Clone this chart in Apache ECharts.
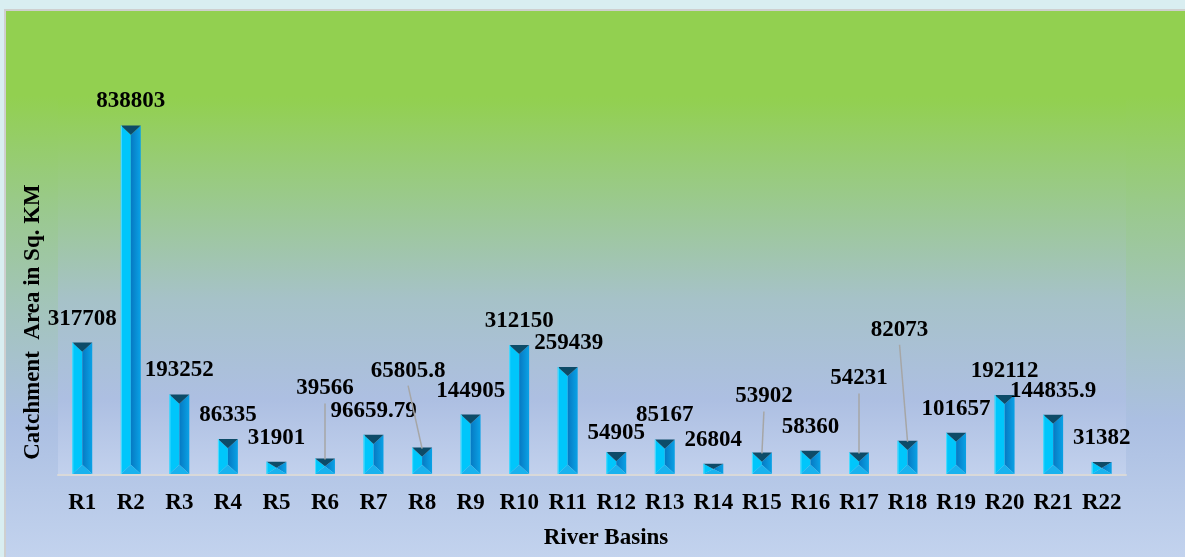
<!DOCTYPE html>
<html>
<head>
<meta charset="utf-8">
<script src="https://cdn.jsdelivr.net/npm/echarts@6/dist/echarts.min.js"></script>
<style>
html,body{margin:0;padding:0;width:1185px;height:557px;overflow:hidden;background:#d9eef1;}
#panel{position:absolute;left:4px;top:9px;width:1200px;height:560px;border:2px solid #cfcfcf;box-sizing:border-box;
background:linear-gradient(to bottom,#92d050 0px,#92d050 85px,#9ac98e 200px,#a3c4bc 300px,#abbfe2 410px,#c3d3ee 548px);}
#chart{position:absolute;left:0;top:0;width:1185px;height:557px;}
</style>
</head>
<body>
<div id="panel"></div>
<div id="chart"></div>
<script>
const categories = ['R1','R2','R3','R4','R5','R6','R7','R8','R9','R10','R11','R12','R13','R14','R15','R16','R17','R18','R19','R20','R21','R22'];
const values = [317708, 838803, 193252, 86335, 31901, 39566, 96659.79, 65805.8, 144905, 312150, 259439, 54905, 85167, 26804, 53902, 58360, 54231, 82073, 101657, 192112, 144835.9, 31382];
const valueLabels = ['317708','838803','193252','86335','31901','39566','96659.79','65805.8','144905','312150','259439','54905','85167','26804','53902','58360','54231','82073','101657','192112','144835.9','31382'];
// label displacements (px) relative to default position above the bar
const labelDx = [0,0,0,0,0,0,0,-14,0,0,1,0,0,0,2,0,0,-8,0,0,0,0];
const labelDy = [0,0,0,0,0,-46,0,-53,0,0,0,5,0,0,-32,0,-50,-87,0,0,0,0];

const chart = echarts.init(document.getElementById('chart'), null, {renderer:'canvas'});
const FONT = '"Liberation Serif","Times New Roman",serif';
const FS = 23;

function renderItem(params, api) {
  const i = params.dataIndex;
  const v = api.value(1);
  const top = api.coord([api.value(0), v]);
  const base = api.coord([api.value(0), 0]);
  const w = api.size([1, 0])[0] * 0.41;
  const xc = top[0], x0 = xc - w/2, x1 = xc + w/2;
  const yt = top[1], yb = base[1] - 1;
  const H = yb - yt;
  const h = Math.min(w * 0.46, H / 2);
  const children = [
    {type:'polygon', shape:{points:[[x0,yt],[xc,yt+h],[xc,yb-h],[x0,yb]]}, style:{fill:'#00c6fb'}},
    {type:'polygon', shape:{points:[[x1,yt],[xc,yt+h],[xc,yb-h],[x1,yb]]},
      style:{fill:new echarts.graphic.LinearGradient(0,0,1,0,[{offset:0,color:'#0679c2'},{offset:1,color:'#0aa2e6'}])}},
    {type:'polygon', shape:{points:[[x0,yb],[x1,yb],[xc,yb-h]]}, style:{fill:'#19b2ee'}},
    {type:'polygon', shape:{points:[[x0,yt],[x1,yt],[xc,yt+h]]}, style:{fill:'#0d4b68'}},
    {type:'line', shape:{x1:x0+0.5,y1:yt,x2:x0+0.5,y2:yb}, style:{stroke:'#4fdcff',lineWidth:1}}
  ];
  const lx = xc + labelDx[i];
  const ly = yt - 24 + labelDy[i];
  if (labelDy[i] < -20) {
    children.push({type:'line', shape:{x1:lx, y1:ly+15, x2:xc, y2:yt+1}, style:{stroke:'#a6a6a6', lineWidth:1.5}});
  }
  children.push({type:'text', style:{text:valueLabels[i], x:lx, y:ly, fill:'#000', fontSize:FS, fontWeight:'bold', fontFamily:FONT, align:'center', verticalAlign:'middle'}});
  return {type:'group', children};
}

chart.setOption({
  backgroundColor:'transparent',
  animation:false,
  grid:{left:58, right:59, top:100, bottom:82, show:true, borderWidth:0,
    backgroundColor:new echarts.graphic.LinearGradient(0,0,0,1,[
      {offset:0,color:'#92d050'},{offset:0.28,color:'#9bc990'},{offset:0.53,color:'#a6c2c8'},{offset:0.8,color:'#adbfe2'},{offset:1,color:'#c2d1ed'}])},
  xAxis:{type:'category', data:categories,
    axisLine:{lineStyle:{color:'#d9d9d9', width:2}}, axisTick:{show:false},
    axisLabel:{color:'#000', fontSize:FS, fontWeight:'bold', fontFamily:FONT, margin:17, interval:0},
    name:'River Basins', nameLocation:'middle', nameGap:52,
    nameTextStyle:{color:'#000', fontSize:FS, fontWeight:'bold', fontFamily:FONT, padding:[0,0,0,28]}},
  yAxis:{type:'value', min:0, max:900000, interval:100000, show:true,
    axisLine:{show:false}, axisTick:{show:false}, axisLabel:{show:false}, splitLine:{show:false}},
  graphic:[{type:'text', x:33, y:322, rotation:Math.PI/2,
    style:{text:'Catchment  Area in Sq. KM', fill:'#000', fontSize:FS, fontWeight:'bold', fontFamily:FONT, align:'center', verticalAlign:'middle'}}],
  series:[{type:'custom', renderItem, data:values.map((v,i)=>[i,v]), encode:{x:0,y:1}, clip:false}]
});
</script>
</body>
</html>
